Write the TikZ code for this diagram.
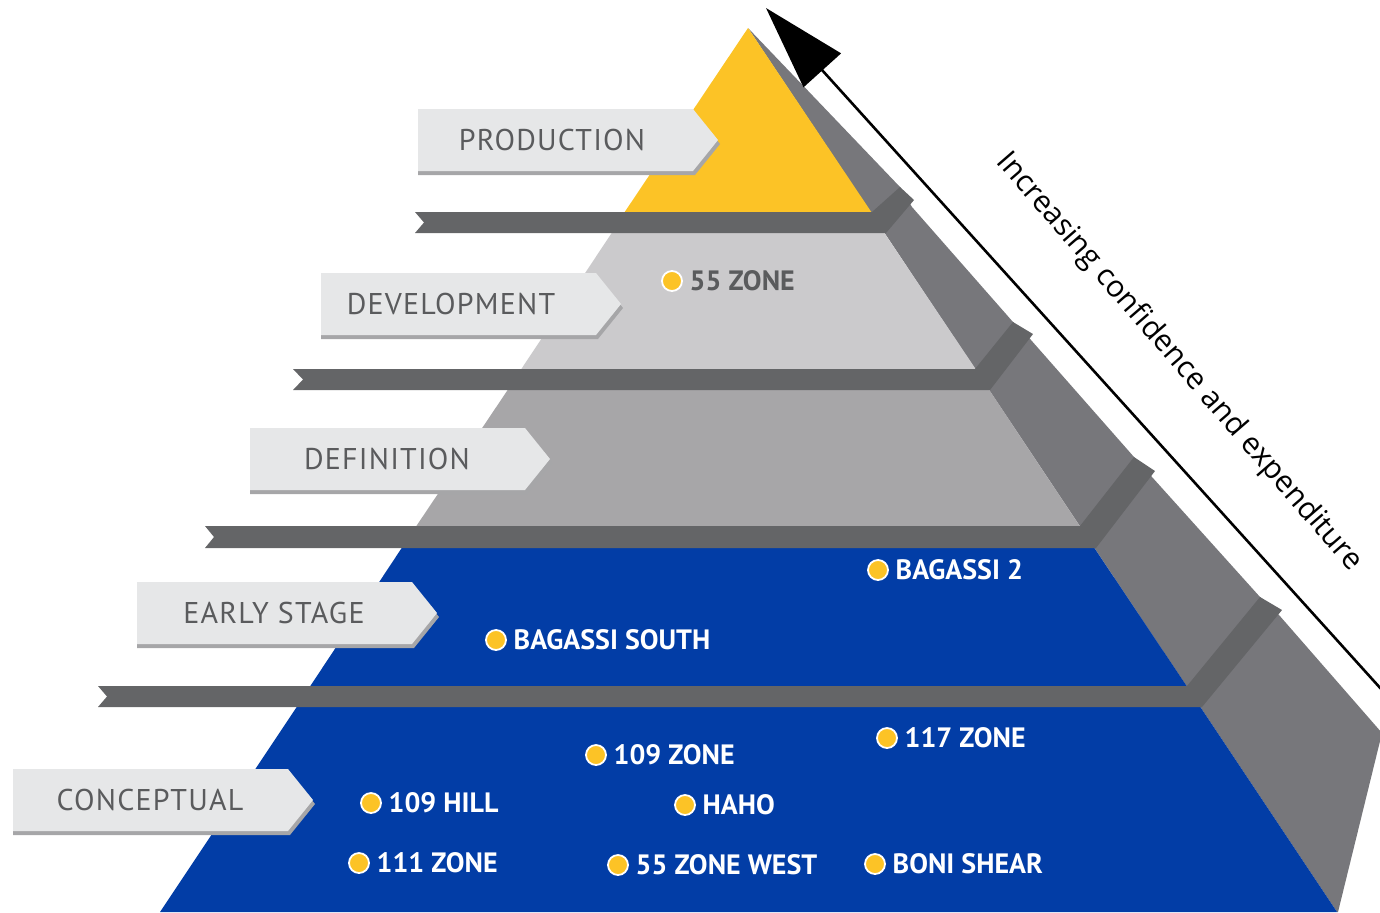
\documentclass[tikz,border=0pt]{standalone}
\usepackage{fontspec}
\setmainfont{PT Sans}
\newfontfamily\stagefont{PT Sans}[LetterSpace=4]
\newfontfamily\trendfont{Open Sans}
\usetikzlibrary{positioning,arrows.meta}

\definecolor{prodyellow}{HTML}{FCC326}
\definecolor{devgray}{HTML}{CBCACC}
\definecolor{defgray}{HTML}{A7A6A8}
\definecolor{stageblue}{HTML}{023DA6}
\definecolor{bandgray}{HTML}{646567}
\definecolor{sidegray}{HTML}{77777B}
\definecolor{boxface}{HTML}{E6E7E8}
\definecolor{boxshadow}{HTML}{A6A6A8}
\definecolor{stagetext}{HTML}{5A5B5D}

\tikzset{
  stagebox/.style={fill=boxface},
  stageshadow/.style={fill=boxshadow},
  stagename/.style={font=\stagefont\fontsize{15}{15}\selectfont, text=stagetext, inner sep=0pt},
  spot/.style={circle, fill=prodyellow, draw=white, line width=0.9pt, minimum size=10pt, inner sep=0pt},
  orename/.style={font=\bfseries\fontsize{14}{14}\selectfont, text=white, inner sep=0pt, right=3.2pt of #1},
  trend/.style={font=\trendfont\fontsize{15}{15}\selectfont, rotate=-49.1},
  trendarrow/.style={line width=1.3pt, -{Triangle[length=42pt,width=25pt]}}
}

\begin{document}
\begin{tikzpicture}[x=0.5pt,y=-0.5pt]
\useasboundingbox (0,0) rectangle (1380,912);
\clip (0,0) rectangle (1380,912);

% Side face
\fill[sidegray] (748,28) -- (900,187) -- (912,207) -- (1013,322) -- (1031,340) -- (1134,457) -- (1152,477) -- (1260,597) -- (1279,615) -- (1382,733) -- (1338,912) -- (1337,912) -- cycle;

% Front tiers
\fill[prodyellow] (748,28) -- (878,222) -- (618,222) -- cycle;
\fill[devgray] (615,228) -- (881,228) -- (979,374) -- (518,374) -- cycle;
\fill[defgray] (511,385) -- (986,385) -- (1083,531) -- (413,531) -- cycle;
\fill[stageblue] (405,543) -- (1091,543) -- (1190,691) -- (307,691) -- cycle;
\fill[stageblue] (300,702) -- (1197,702) -- (1337,912) -- (160,912) -- cycle;

% Bands with steps
\fill[bandgray] (415,212) -- (872,212) -- (900,187) -- (914,200) -- (886,233) -- (415,233) -- (424,222.5) -- cycle;
\fill[bandgray] (293,369) -- (975,369) -- (1013,322) -- (1033,334) -- (990,390) -- (293,390) -- (303,379.5) -- cycle;
\fill[bandgray] (205,526) -- (1080,526) -- (1134,457) -- (1155,471) -- (1096,548) -- (205,548) -- (214,537) -- cycle;
\fill[bandgray] (98,686) -- (1187,686) -- (1260,597) -- (1282,610) -- (1202,707) -- (98,707) -- (107,696.5) -- cycle;

% Production
\begin{scope}[shift={(418,109)}]
\fill[stageshadow] (0,4) -- (277,4) -- (302,35) -- (277,66) -- (0,66) -- cycle;
\fill[stagebox] (0,0) -- (275,0) -- (300,31) -- (275,62) -- (0,62) -- cycle;
\node[stagename] (production) at (134,31) {PRODUCTION};
\end{scope}

% Development
\begin{scope}[shift={(321,273)}]
\fill[stageshadow] (0,4) -- (277,4) -- (302,35) -- (277,66) -- (0,66) -- cycle;
\fill[stagebox] (0,0) -- (275,0) -- (300,31) -- (275,62) -- (0,62) -- cycle;
\node[stagename] (development) at (130,31) {DEVELOPMENT};
\end{scope}

% Definition
\begin{scope}[shift={(250,428)}]
\fill[stageshadow] (0,4) -- (277,4) -- (302,35) -- (277,66) -- (0,66) -- cycle;
\fill[stagebox] (0,0) -- (275,0) -- (300,31) -- (275,62) -- (0,62) -- cycle;
\node[stagename] (definition) at (137,31) {DEFINITION};
\end{scope}

% Early stage
\begin{scope}[shift={(137,582)}]
\fill[stageshadow] (0,4) -- (277,4) -- (302,35) -- (277,66) -- (0,66) -- cycle;
\fill[stagebox] (0,0) -- (275,0) -- (300,31) -- (275,62) -- (0,62) -- cycle;
\node[stagename] (earlystage) at (137,31) {EARLY STAGE};
\end{scope}

% Conceptual
\begin{scope}[shift={(13,769)}]
\fill[stageshadow] (0,4) -- (277,4) -- (302,35) -- (277,66) -- (0,66) -- cycle;
\fill[stagebox] (0,0) -- (275,0) -- (300,31) -- (275,62) -- (0,62) -- cycle;
\node[stagename] (conceptual) at (137,31) {CONCEPTUAL};
\end{scope}

% Deposits
\node[spot] (spot55) at (672,281) {};
\node[orename=spot55, text=stagetext] (zone55) {55 ZONE};
\node[spot] (spotbag2) at (878,570) {};
\node[orename=spotbag2] (bagassi2) {BAGASSI 2};
\node[spot] (spotbags) at (496,640) {};
\node[orename=spotbags] (bagassisouth) {BAGASSI SOUTH};
\node[spot] (spot117) at (887,738) {};
\node[orename=spot117] (zone117) {117 ZONE};
\node[spot] (spot109z) at (596,755) {};
\node[orename=spot109z] (zone109) {109 ZONE};
\node[spot] (spot109h) at (371,803) {};
\node[orename=spot109h] (hill109) {109 HILL};
\node[spot] (spothaho) at (685,805) {};
\node[orename=spothaho] (haho) {HAHO};
\node[spot] (spot111) at (359,863) {};
\node[orename=spot111] (zone111) {111 ZONE};
\node[spot] (spot55w) at (618,865) {};
\node[orename=spot55w] (zone55west) {55 ZONE WEST};
\node[spot] (spotboni) at (875,864) {};
\node[orename=spotboni] (bonishear) {BONI SHEAR};

% Trend arrow
\coordinate (arrowfoot) at (1382,690);
\coordinate (arrowtip) at (766,8);
\draw[trendarrow] (arrowfoot) -- (arrowtip);
\node[trend] (trendlabel) at (1179,362) {Increasing confidence and expenditure};
\end{tikzpicture}
\end{document}
